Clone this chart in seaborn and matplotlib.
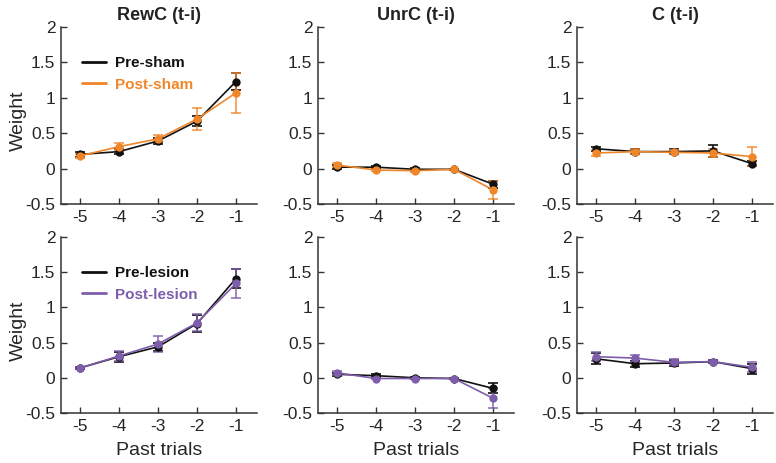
import numpy as np
import pandas as pd
import matplotlib
matplotlib.use("Agg")
import matplotlib.pyplot as plt
import seaborn as sns

sns.set_theme(style="ticks")
plt.rcParams['font.family'] = ['Liberation Sans', 'DejaVu Sans']

lags = [-5, -4, -3, -2, -1]
panel_titles = ["RewC (t-i)", "UnrC (t-i)", "C (t-i)"]

# Top row: sham group
pre_sham_mean = [[0.20, 0.24, 0.39, 0.67, 1.23],
                 [0.02, 0.02, -0.01, -0.01, -0.22],
                 [0.28, 0.24, 0.24, 0.25, 0.07]]
pre_sham_err = [[0.04, 0.03, 0.04, 0.07, 0.12],
                [0.03, 0.02, 0.02, 0.01, 0.05],
                [0.03, 0.03, 0.03, 0.09, 0.04]]
post_sham_mean = [[0.18, 0.31, 0.42, 0.70, 1.07],
                  [0.05, -0.02, -0.03, -0.01, -0.30],
                  [0.22, 0.24, 0.23, 0.22, 0.17]]
post_sham_err = [[0.03, 0.05, 0.05, 0.15, 0.28],
                 [0.03, 0.02, 0.02, 0.01, 0.13],
                 [0.04, 0.04, 0.03, 0.06, 0.14]]

# Bottom row: lesion group
pre_lesion_mean = [[0.14, 0.30, 0.44, 0.77, 1.41],
                   [0.05, 0.03, 0.00, -0.01, -0.15],
                   [0.27, 0.20, 0.21, 0.23, 0.13]]
pre_lesion_err = [[0.02, 0.07, 0.06, 0.12, 0.13],
                  [0.02, 0.02, 0.01, 0.01, 0.07],
                  [0.08, 0.04, 0.04, 0.02, 0.07]]
post_lesion_mean = [[0.14, 0.31, 0.48, 0.78, 1.34],
                    [0.07, -0.01, -0.01, -0.01, -0.29],
                    [0.30, 0.28, 0.22, 0.23, 0.15]]
post_lesion_err = [[0.02, 0.07, 0.11, 0.12, 0.20],
                   [0.03, 0.01, 0.01, 0.01, 0.14],
                   [0.06, 0.05, 0.04, 0.02, 0.07]]

BLACK = "#111111"
ORANGE = "#F0862A"
PURPLE = "#7E5DAB"
AXC = "#333333"

fig = plt.figure(figsize=(7.76, 4.63), dpi=100)
lefts = [61, 318, 577]
W = 196
rows = [(204, 27), (413, 237)]

rowdefs = [
    (("Pre-sham", pre_sham_mean, pre_sham_err, BLACK),
     ("Post-sham", post_sham_mean, post_sham_err, ORANGE)),
    (("Pre-lesion", pre_lesion_mean, pre_lesion_err, BLACK),
     ("Post-lesion", post_lesion_mean, post_lesion_err, PURPLE)),
]

for r, (ybot, ytop) in enumerate(rows):
    for c, lx in enumerate(lefts):
        ax = fig.add_axes([lx / 776, 1 - ybot / 463, W / 776, (ybot - ytop) / 463])
        frames = []
        for name, means, errs, col in rowdefs[r]:
            frames.append(pd.DataFrame({"lag": lags, "weight": means[c],
                                        "err": errs[c], "cond": name}))
        df = pd.concat(frames, ignore_index=True)
        pal = {d[0]: d[3] for d in rowdefs[r]}
        for name, means, errs, col in rowdefs[r]:
            sub = df[df.cond == name]
            ax.errorbar(sub["lag"], sub["weight"], yerr=sub["err"], fmt="none",
                        ecolor=col, elinewidth=1.2, capsize=3.5, capthick=1.2,
                        alpha=0.85 if col != BLACK else 1.0)
        sns.lineplot(data=df, x="lag", y="weight", hue="cond", palette=pal,
                     marker="o", markersize=6, markeredgewidth=0,
                     linewidth=1.2, ax=ax, legend=(c == 0), sort=False)
        ax.set_xlim(-5.49, -0.46)
        ax.set_ylim(-0.5, 2)
        ax.set_xticks(lags)
        ax.set_xticklabels([str(v) for v in lags])
        ax.set_yticks([-0.5, 0, 0.5, 1, 1.5, 2])
        ax.set_yticklabels(["-0.5", "0", "0.5", "1", "1.5", "2"])
        ax.tick_params(direction="in", length=4, width=1, colors=AXC,
                       labelsize=12.5, labelcolor="#262626", pad=4)
        for s in ["top", "right"]:
            ax.spines[s].set_visible(False)
        for s in ["left", "bottom"]:
            ax.spines[s].set_color(AXC)
            ax.spines[s].set_linewidth(1.1)
        ax.set_xlabel("")
        ax.set_ylabel("")
        if r == 0:
            ax.set_title(panel_titles[c], fontsize=13, fontweight="bold",
                         color="#222222", pad=5)
        else:
            ax.set_xlabel("Past trials", fontsize=14, color="#262626", labelpad=6)
        if c == 0:
            ax.set_ylabel("Weight", fontsize=14, color="#262626")
            ax.yaxis.set_label_coords(-0.175, 0.47)
            h, l = ax.get_legend_handles_labels()
            leg = ax.legend(h, l, loc="upper left", bbox_to_anchor=(0.075, 0.87),
                            frameon=False, handlelength=1.6, handletextpad=0.6,
                            labelspacing=0.5, borderaxespad=0,
                            prop={"weight": "bold", "size": 11})
            for txt, d in zip(leg.get_texts(), rowdefs[r]):
                txt.set_color(d[3])
            for line in leg.get_lines():
                line.set_marker("")
                line.set_linewidth(2)

fig.savefig("out.png", dpi=100)
